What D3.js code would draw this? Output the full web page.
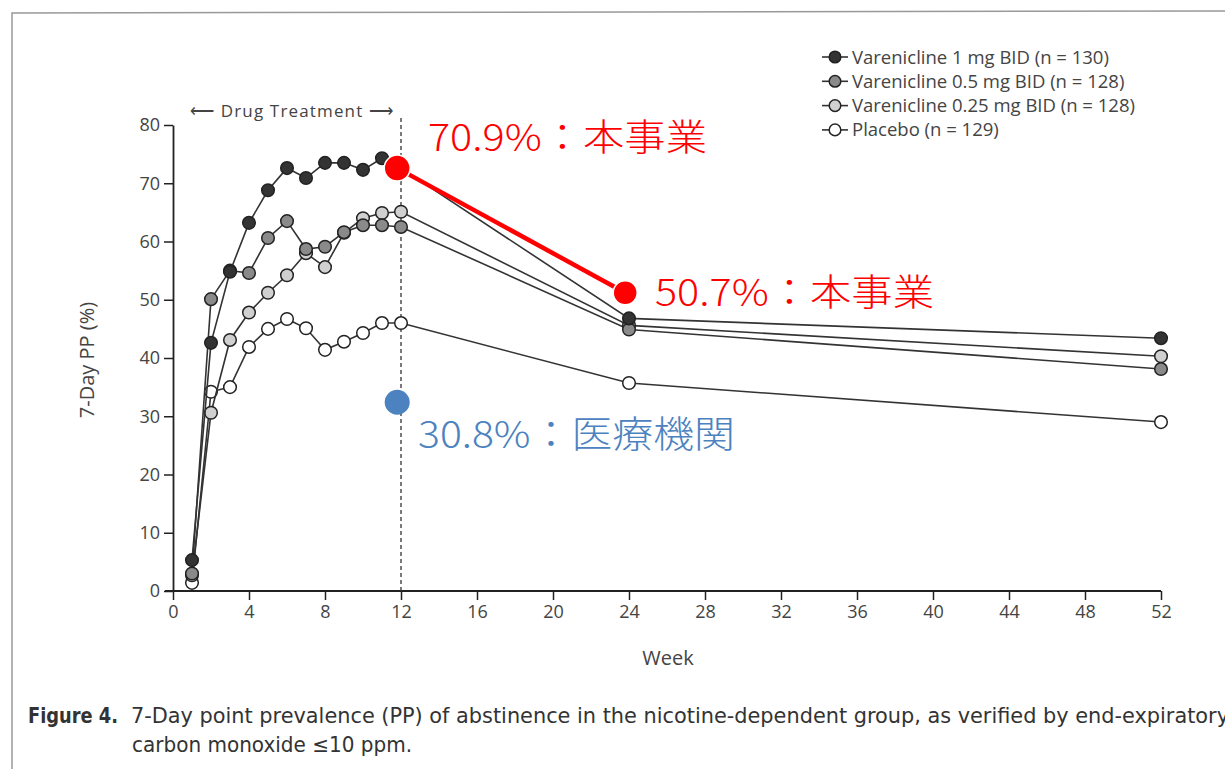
<!DOCTYPE html>
<html>
<head>
<meta charset="utf-8">
<script src="https://cdn.jsdelivr.net/npm/d3@7"></script>
<style>
  body { margin: 0; background: #fff; }
  svg { display: block; }
</style>
</head>
<body>
<div id="chart"></div>
<script>
// data
let weeks = [1, 2, 3, 4, 5, 6, 7, 8, 9, 10, 11, 12, 24, 52];
let vare1 = [5.3, 42.6, 54.8, 63.2, 68.8, 72.6, 70.9, 73.5, 73.5, 72.3, 74.3, 72.6, 46.8, 43.4];
let vare05 = [3.0, 50.1, 55.0, 54.6, 60.6, 63.5, 58.7, 59.1, 61.6, 62.8, 62.8, 62.5, 44.9, 38.1];
let vare025 = [2.7, 30.6, 43.1, 47.8, 51.2, 54.2, 58.0, 55.6, 61.5, 64.0, 64.9, 65.1, 45.6, 40.3];
let placebo = [1.4, 34.2, 35.0, 41.9, 45.0, 46.7, 45.1, 41.4, 42.8, 44.3, 46.0, 46.0, 35.7, 29.0];
let seriesNames = ["Varenicline 1 mg BID (n = 130)", "Varenicline 0.5 mg BID (n = 128)",
                   "Varenicline 0.25 mg BID (n = 128)", "Placebo (n = 129)"];
let seriesFills = ["#333", "#8a8a8a", "#d0d0d0", "#fff"];
let xTicks = [0, 4, 8, 12, 16, 20, 24, 28, 32, 36, 40, 44, 48, 52];
let yTicks = [0, 10, 20, 30, 40, 50, 60, 70, 80];

// overlaid annotations
let redWeeks = [11.8, 23.8];
let redValues = [72.6, 51.2];
let redLabels = ["70.9%：本事業", "50.7%：本事業"];
let blueWeek = [11.8];
let blueValue = [32.4];
let blueLabel = ["30.8%：医療機関"];

let w = 1225, h = 769;
let svg = d3.select("#chart").append("svg")
  .attr("width", w).attr("height", h);

// scanned page frame
svg.append("path")
  .attr("d", "M12,769 L12,13 L1225,11")
  .attr("fill", "none").attr("stroke", "#999").attr("stroke-width", 1.5);

let xScale = d3.scaleLinear().domain([0, 52]).range([173, 1161]);
let yScale = d3.scaleLinear().domain([0, 80]).range([591, 125]);

let tickFont = "'Open Sans', sans-serif";

// axes
let xAxis = d3.axisBottom(xScale).tickValues(xTicks).tickSize(9).tickSizeOuter(0).tickPadding(5);
let yAxis = d3.axisLeft(yScale).tickValues(yTicks).tickSize(9).tickSizeOuter(0).tickPadding(4);

let gx = svg.append("g").attr("transform", "translate(0," + yScale(0) + ")").call(xAxis);
let gy = svg.append("g").attr("transform", "translate(" + xScale(0) + ",0)").call(yAxis);
[gx, gy].forEach(g => {
  g.select(".domain").attr("stroke", "#222").attr("stroke-width", 1.8);
  g.selectAll(".tick line").attr("stroke", "#222").attr("stroke-width", 1.5);
  g.selectAll(".tick text").attr("fill", "#444").attr("font-size", "18px").attr("font-family", tickFont);
});
gx.select(".domain").attr("d", "M" + (xScale(0) - 8) + ",0H" + xScale(52));

// axis titles
svg.append("text")
  .attr("x", 668).attr("y", 665)
  .attr("text-anchor", "middle")
  .attr("font-size", "20px").attr("font-family", tickFont).attr("fill", "#444")
  .text("Week");
svg.append("text")
  .attr("transform", "translate(94,360) rotate(-90)")
  .attr("text-anchor", "middle")
  .attr("font-size", "20px").attr("font-family", tickFont).attr("fill", "#444")
  .text("7-Day PP (%)");

// dashed end-of-treatment line
svg.append("line")
  .attr("x1", xScale(12)).attr("x2", xScale(12))
  .attr("y1", 118).attr("y2", yScale(0))
  .attr("stroke", "#333").attr("stroke-width", 1.3)
  .attr("stroke-dasharray", "4,3");

svg.append("text")
  .attr("x", 190).attr("y", 117)
  .attr("font-size", "17px").attr("font-family", tickFont).attr("fill", "#444")
  .attr("textLength", 203).attr("lengthAdjust", "spacing")
  .text("⟵ Drug Treatment ⟶");

// series
let allSeries = [vare1, vare05, vare025, placebo];
let line = d3.line().x((d, i) => xScale(weeks[i])).y(d => yScale(d));

// draw back to front so the darkest series stays on top
for (let s = allSeries.length - 1; s >= 0; s--) {
  let g = svg.append("g");
  g.append("path")
    .attr("d", line(allSeries[s]))
    .attr("fill", "none").attr("stroke", "#333").attr("stroke-width", 1.6);
  g.selectAll("circle").data(allSeries[s]).join("circle")
    .attr("cx", (d, i) => xScale(weeks[i]))
    .attr("cy", d => yScale(d))
    .attr("r", 6.3)
    .attr("fill", seriesFills[s])
    .attr("stroke", "#222").attr("stroke-width", 1.5);
}

// legend
let legend = svg.append("g").attr("transform", "translate(822,57)");
seriesNames.forEach((name, i) => {
  let row = legend.append("g").attr("transform", "translate(0," + i * 24.3 + ")");
  row.append("line").attr("x1", 0).attr("x2", 26).attr("y1", 0).attr("y2", 0)
    .attr("stroke", "#333").attr("stroke-width", 1.6);
  row.append("circle").attr("cx", 13).attr("cy", 0).attr("r", 5.8)
    .attr("fill", seriesFills[i]).attr("stroke", "#222").attr("stroke-width", 1.5);
  row.append("text").attr("x", 30).attr("y", 6.5)
    .attr("font-size", "18.5px").attr("font-family", tickFont).attr("fill", "#444")
    .text(name);
});

// red overlay
svg.append("line")
  .attr("x1", xScale(redWeeks[0])).attr("y1", yScale(redValues[0]))
  .attr("x2", xScale(redWeeks[1])).attr("y2", yScale(redValues[1]))
  .attr("stroke", "#f00").attr("stroke-width", 4.5);
svg.selectAll(".red-dot").data(redValues).join("circle")
  .attr("class", "red-dot")
  .attr("cx", (d, i) => xScale(redWeeks[i]))
  .attr("cy", d => yScale(d))
  .attr("r", (d, i) => i === 0 ? 13 : 12)
  .attr("fill", "#f00").attr("stroke", "#fff").attr("stroke-width", 1.5);

let jpFont = "'Noto Sans CJK JP', sans-serif";
let redPos = [[428, 151], [655, 306]];
redLabels.forEach((t, i) => {
  svg.append("text")
    .attr("x", redPos[i][0]).attr("y", redPos[i][1])
    .attr("font-size", "37px").attr("font-family", jpFont).attr("font-weight", 300)
    .attr("textLength", 279).attr("lengthAdjust", "spacingAndGlyphs")
    .attr("fill", "#f00")
    .text(t);
});

svg.selectAll(".blue-dot").data(blueValue).join("circle")
  .attr("class", "blue-dot")
  .attr("cx", (d, i) => xScale(blueWeek[i]))
  .attr("cy", d => yScale(d))
  .attr("r", 12.5)
  .attr("fill", "#4d82c0");
svg.append("text")
  .attr("x", 418).attr("y", 448)
  .attr("font-size", "37px").attr("font-family", jpFont).attr("font-weight", 300)
  .attr("textLength", 317).attr("lengthAdjust", "spacingAndGlyphs")
  .attr("fill", "#4d82c0")
  .text(blueLabel[0]);

// caption
let capFont = "'Liberation Sans Narrow', 'DejaVu Sans Condensed', sans-serif";
svg.append("text")
  .attr("x", 28).attr("y", 723)
  .attr("font-size", "21px").attr("font-family", capFont).attr("font-weight", "bold").attr("fill", "#333")
  .attr("textLength", 90).attr("lengthAdjust", "spacingAndGlyphs")
  .text("Figure 4.");
svg.append("text")
  .attr("x", 131).attr("y", 723)
  .attr("font-size", "21px").attr("font-family", capFont).attr("fill", "#333")
  .attr("textLength", 1098).attr("lengthAdjust", "spacingAndGlyphs")
  .text("7-Day point prevalence (PP) of abstinence in the nicotine-dependent group, as verified by end-expiratory");
svg.append("text")
  .attr("x", 132).attr("y", 752)
  .attr("font-size", "21px").attr("font-family", capFont).attr("fill", "#333")
  .attr("textLength", 280).attr("lengthAdjust", "spacingAndGlyphs")
  .text("carbon monoxide ≤10 ppm.");
</script>
</body>
</html>
